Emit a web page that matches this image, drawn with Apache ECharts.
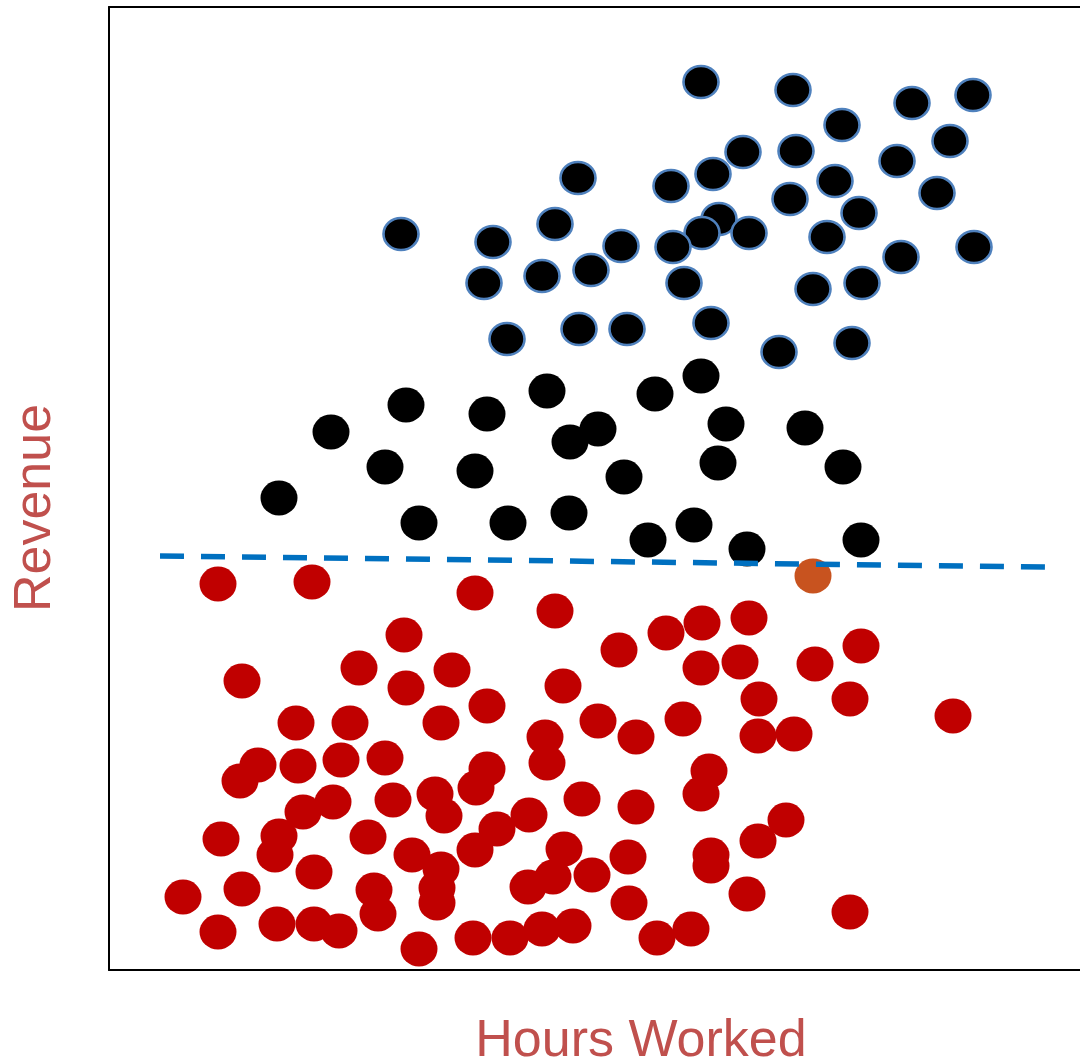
<!DOCTYPE html>
<html>
<head>
<meta charset="utf-8">
<script src="https://cdn.jsdelivr.net/npm/echarts@6/dist/echarts.min.js"></script>
<style>
  html, body { margin: 0; padding: 0; background: #fff; }
  #chart { width: 1080px; height: 1061px; }
</style>
</head>
<body>
<div id="chart"></div>
<script>
// hours worked (x) / revenue (y) in plot units
const topPoints = [
  [592, 888], [684, 880], [803, 867], [864, 875], [733, 845], [841, 829],
  [634, 818], [687, 819], [469, 792], [604, 796], [562, 784], [788, 809],
  [726, 789], [828, 777], [681, 771], [750, 757], [610, 751], [446, 746],
  [292, 736], [384, 728], [512, 724], [593, 737], [564, 723], [640, 737],
  [718, 733], [865, 723], [792, 713], [482, 700], [433, 694], [375, 687],
  [575, 687], [753, 687], [704, 681], [602, 647], [470, 641], [518, 641],
  [398, 631], [670, 618], [743, 627]
];

const midPoints = [
  [222, 538], [297, 565], [378, 556], [438, 579], [489, 541], [461, 528],
  [276, 503], [366, 499], [515, 493], [170, 472], [310, 447], [399, 447],
  [460, 457], [539, 430], [546, 576], [592, 594], [617, 546], [696, 542],
  [609, 507], [734, 503], [585, 445], [638, 421], [752, 430]
];

const lowPoints = [
  [109, 386], [203, 388], [366, 377], [446, 359], [295, 335], [250, 302],
  [343, 300], [297, 282], [133, 289], [378, 264], [454, 284], [187, 247],
  [241, 247], [332, 247], [436, 233], [438, 207], [149, 205], [189, 204],
  [232, 210], [276, 212], [131, 189], [378, 201], [367, 182], [224, 168],
  [194, 158], [284, 170], [326, 176], [335, 154], [388, 141], [420, 155],
  [473, 171], [527, 163], [170, 134], [112, 131], [166, 115], [259, 133],
  [303, 115], [332, 101], [366, 120], [455, 121], [519, 113], [205, 98],
  [133, 81], [74, 73], [265, 80], [269, 56], [328, 82], [328, 67],
  [419, 83], [444, 93], [483, 95], [109, 38], [168, 46], [205, 46],
  [230, 39], [310, 21], [364, 32], [401, 32], [433, 41], [464, 44],
  [520, 67], [548, 32], [582, 41], [638, 76], [741, 58], [602, 115],
  [602, 104], [649, 129], [677, 150], [592, 176], [600, 199], [649, 234],
  [685, 236], [650, 271], [741, 271], [844, 254], [489, 249], [527, 233],
  [574, 251], [510, 320], [557, 337], [593, 347], [640, 352], [592, 302],
  [631, 308], [706, 306], [752, 324]
];

const outlierPoint = [[704, 394]];

const splitLine = [[51, 414], [938, 403]];

const xTitle = 'Hours Worked';
const yTitle = 'Revenue';

const chart = echarts.init(document.getElementById('chart'));

const frameLine = { show: true, onZero: false, lineStyle: { color: '#000000', width: 2 } };

const bareAxis = {
  type: 'value',
  axisTick: { show: false },
  axisLabel: { show: false },
  splitLine: { show: false }
};

const option = {
  animation: false,
  backgroundColor: '#ffffff',
  grid: { left: 109, top: 7, right: 0, bottom: 91 },
  xAxis: [
    { ...bareAxis, position: 'bottom', min: 0, max: 971, axisLine: frameLine },
    { ...bareAxis, position: 'top', min: 0, max: 971, axisLine: frameLine }
  ],
  yAxis: { ...bareAxis, position: 'left', min: 0, max: 963, axisLine: frameLine },
  series: [
    {
      type: 'scatter',
      data: topPoints,
      symbol: 'circle',
      symbolSize: [35, 32],
      itemStyle: { color: '#000000', borderColor: '#4f81bd', borderWidth: 2.5, opacity: 1 }
    },
    {
      type: 'scatter',
      data: midPoints,
      symbol: 'circle',
      symbolSize: [37, 35],
      itemStyle: { color: '#000000', opacity: 1 }
    },
    {
      type: 'scatter',
      data: lowPoints,
      symbol: 'circle',
      symbolSize: [37, 35],
      itemStyle: { color: '#c00000', opacity: 1 }
    },
    {
      type: 'scatter',
      data: outlierPoint,
      symbol: 'circle',
      symbolSize: [37, 35],
      itemStyle: { color: '#c8531f', opacity: 1 }
    },
    {
      type: 'line',
      data: splitLine,
      symbol: 'none',
      z: 5,
      lineStyle: { color: '#0070c0', width: 5.5, type: [24, 17], cap: 'butt' }
    }
  ],
  graphic: [
    {
      type: 'text',
      x: 641,
      y: 1042,
      style: {
        text: xTitle,
        fill: '#c0504d',
        font: '52px "Liberation Sans", Arial, sans-serif',
        align: 'center',
        verticalAlign: 'middle'
      }
    },
    {
      type: 'text',
      x: 36,
      y: 508,
      rotation: Math.PI / 2,
      style: {
        text: yTitle,
        fill: '#c0504d',
        font: '52px "Liberation Sans", Arial, sans-serif',
        align: 'center',
        verticalAlign: 'middle'
      }
    }
  ]
};

chart.setOption(option);
</script>
</body>
</html>
